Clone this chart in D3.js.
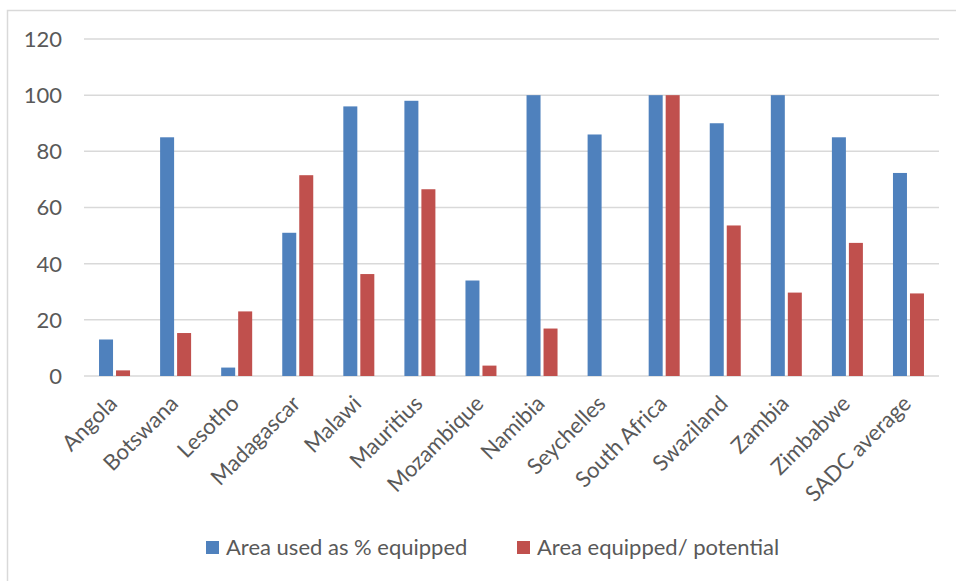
<!DOCTYPE html>
<html>
<head>
<meta charset="utf-8">
<script src="https://cdn.jsdelivr.net/npm/d3@7"></script>
<style>
  body { margin: 0; background: #fff; }
  text { font-family: Lato, "Open Sans", sans-serif; fill: #595959; }
</style>
</head>
<body>
<div id="chart"></div>
<script>
const categories = ["Angola", "Botswana", "Lesotho", "Madagascar", "Malawi", "Mauritius",
  "Mozambique", "Namibia", "Seychelles", "South Africa", "Swaziland", "Zambia",
  "Zimbabwe", "SADC average"];
const series = ["Area used as % equipped", "Area equipped/ potential"];
const usedPct = [13, 85, 3, 51, 96, 98, 34, 100, 86, 100, 90, 100, 85, 72.3];
const equippedPotential = [2, 15.3, 23, 71.5, 36.3, 66.5, 3.7, 16.9, 0, 100, 53.6, 29.7, 47.4, 29.4];
const yTicks = [0, 20, 40, 60, 80, 100, 120];
const colors = ["#4f81bd", "#c0504d"];

const width = 956, height = 581;
const margin = { left: 84, right: 17, top: 39, bottom: 205 };
const fontSize = "22px";

const svg = d3.select("#chart").append("svg")
  .attr("width", width).attr("height", height);

// chart frame
svg.append("rect")
  .attr("x", 7.5).attr("y", 10.5)
  .attr("width", width + 10).attr("height", height + 10)
  .attr("fill", "none").attr("stroke", "#d9d9d9").attr("stroke-width", 1.5);

const x = d3.scaleBand().domain(categories)
  .range([margin.left, width - margin.right]);
const x1 = d3.scaleBand().domain(series)
  .range([0, 31]).paddingInner(3 / 17);
const y = d3.scaleLinear().domain([0, 120])
  .range([height - margin.bottom, margin.top]);

// grid
svg.append("g").selectAll("line").data(yTicks).join("line")
  .attr("x1", margin.left).attr("x2", width - margin.right)
  .attr("y1", d => y(d)).attr("y2", d => y(d))
  .attr("stroke", "#d9d9d9").attr("stroke-width", 1.5);

// y labels
svg.append("g").selectAll("text").data(yTicks).join("text")
  .attr("x", 62).attr("y", d => y(d))
  .attr("dy", "0.36em")
  .attr("text-anchor", "end")
  .style("font-size", fontSize)
  .text(d => d);

// bars
const rows = categories.map((c, i) => ({ c, vals: [usedPct[i], equippedPotential[i]] }));
const groups = svg.append("g").selectAll("g").data(rows).join("g")
  .attr("transform", d => `translate(${x(d.c) + x.bandwidth() / 2 - 15.5},0)`);
groups.selectAll("rect")
  .data(d => d.vals.map((v, j) => ({ s: series[j], v, j })))
  .join("rect")
  .attr("x", d => x1(d.s))
  .attr("width", x1.bandwidth())
  .attr("y", d => y(d.v))
  .attr("height", d => y(0) - y(d.v))
  .attr("fill", d => colors[d.j]);

// category labels
svg.append("g").selectAll("text").data(categories).join("text")
  .attr("transform", d => `translate(${x(d) + x.bandwidth() / 2 + 4},${y(0) + 29}) rotate(-45)`)
  .attr("text-anchor", "end")
  .style("font-size", fontSize)
  .text(d => d);

// legend
const legendX = [206, 517];
const legend = svg.append("g").selectAll("g").data(series).join("g")
  .attr("transform", (d, i) => `translate(${legendX[i]},541)`);
legend.append("rect")
  .attr("width", 13).attr("height", 13)
  .attr("fill", (d, i) => colors[i]);
legend.append("text")
  .attr("x", 20).attr("y", 6.5).attr("dy", "0.36em")
  .style("font-size", fontSize)
  .text(d => d);
</script>
</body>
</html>
